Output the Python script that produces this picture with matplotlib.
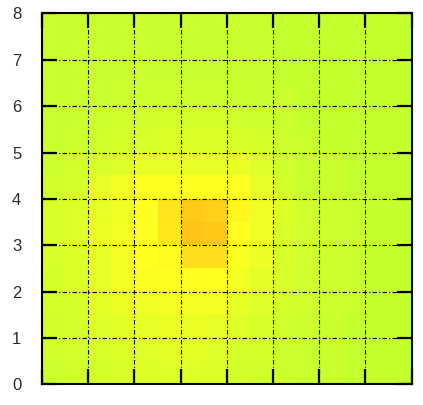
import numpy as np
import matplotlib
matplotlib.use("Agg")
from matplotlib import pyplot as plt
from matplotlib.colors import LinearSegmentedColormap

plt.rcParams['font.family'] = ['Liberation Sans', 'DejaVu Sans']

# cell values on a 16 x 16 grid, row 0 is the bottom row (y = 0..0.5)
z_rows = [
    [1.1, 1.5, 1.9, 2.3, 2.7, 3.0, 3.0, 2.7, 1.9, 1.5, 1.1, 0.8, 0.8, 0.4, 0.4, 0.4],
    [1.5, 1.9, 2.3, 2.7, 3.0, 3.4, 3.4, 3.0, 2.3, 1.9, 1.1, 0.8, 0.8, 0.4, 0.4, 0.4],
    [1.5, 2.3, 3.0, 3.4, 3.8, 4.2, 4.2, 3.8, 3.0, 2.3, 1.5, 1.1, 0.8, 0.4, 0.4, 0.4],
    [1.9, 2.3, 3.4, 4.2, 4.6, 5.0, 5.0, 5.0, 3.8, 3.0, 1.9, 1.5, 1.1, 0.8, 0.4, 0.4],
    [1.9, 2.7, 3.8, 5.0, 5.7, 6.0, 6.0, 6.0, 5.0, 3.4, 2.3, 1.5, 1.1, 0.8, 0.4, 0.4],
    [2.3, 2.7, 3.8, 5.0, 6.0, 6.3, 8.1, 8.1, 5.5, 4.2, 2.3, 1.5, 1.1, 0.8, 0.4, 0.4],
    [2.3, 3.0, 4.2, 5.0, 6.0, 7.6, 10.0, 9.7, 6.2, 4.6, 2.3, 1.5, 1.1, 0.8, 0.4, 0.4],
    [2.3, 3.0, 3.8, 4.6, 6.0, 7.8, 9.6, 9.2, 6.6, 4.6, 2.7, 1.5, 1.1, 0.8, 0.4, 0.4],
    [1.5, 2.3, 3.8, 5.0, 6.0, 6.0, 6.0, 6.0, 6.0, 3.8, 1.9, 0.8, 0.8, 0.4, 0.4, 0.4],
    [1.1, 1.9, 2.3, 3.0, 3.8, 4.0, 4.0, 3.8, 4.2, 3.0, 1.5, 0.8, 0.8, 0.4, 0.4, 0.4],
    [0.8, 1.1, 1.5, 1.9, 2.3, 2.7, 2.7, 2.7, 2.3, 1.9, 1.1, 0.8, 0.4, 0.4, 0.4, 0.4],
    [0.8, 0.8, 1.1, 1.5, 1.5, 1.9, 1.9, 1.9, 1.5, 1.1, 0.8, 0.4, 0.4, 0.4, 0.4, 0.4],
    [0.8, 0.8, 0.8, 1.1, 1.1, 1.1, 1.1, 1.1, 0.8, 0.8, 0.8, 0.4, 0.4, 0.4, 0.4, 0.4],
    [0.8, 0.8, 0.8, 0.8, 0.8, 0.8, 0.8, 0.8, 0.8, 0.8, 0.4, 0.4, 0.4, 0.4, 0.4, 0.4],
    [0.8, 0.8, 0.8, 0.8, 0.8, 0.8, 0.8, 0.8, 0.8, 0.8, 0.4, 0.4, 0.4, 0.4, 0.4, 0.4],
    [0.8, 0.8, 0.8, 0.8, 0.8, 0.8, 0.8, 0.8, 0.8, 0.8, 0.4, 0.4, 0.4, 0.4, 0.4, 0.4],
]
y_ticks = [0, 1, 2, 3, 4, 5, 6, 7, 8]
x_ticks = [0, 1, 2, 3, 4, 5, 6, 7, 8]

def main():
	z = np.array(z_rows)
	cmap = LinearSegmentedColormap.from_list(
		"lime_orange", [(0.0, "#c0ff30"), (0.6, "#ffff20"), (1.0, "#ffc418")])

	f = plt.figure(figsize=(4.23, 4.05), dpi=100)
	ax = f.add_axes([0.0993, 0.051, 0.8737, 0.9157])
	ax.imshow(z, origin="lower", extent=(0, 8, 0, 8), cmap=cmap,
		vmin=0, vmax=10, interpolation="nearest", aspect="auto")

	ax.set_xlim(0, 8)
	ax.set_ylim(0, 8)
	ax.set_xticks(x_ticks)
	ax.set_yticks(y_ticks)
	ax.set_xticklabels([])
	ax.tick_params(direction="in", length=11, width=1.6, top=True, right=True,
		labelsize=12, pad=15, colors="black")
	ax.tick_params(axis="y", labelcolor="#2a2a35")
	ax.grid(True, color="black", linewidth=0.8, linestyle=(0, (4, 2, 1, 2)))
	for s in ax.spines.values():
		s.set_linewidth(1.5)

	plt.savefig("out.png", dpi=100)


if __name__ == '__main__':
	main()
